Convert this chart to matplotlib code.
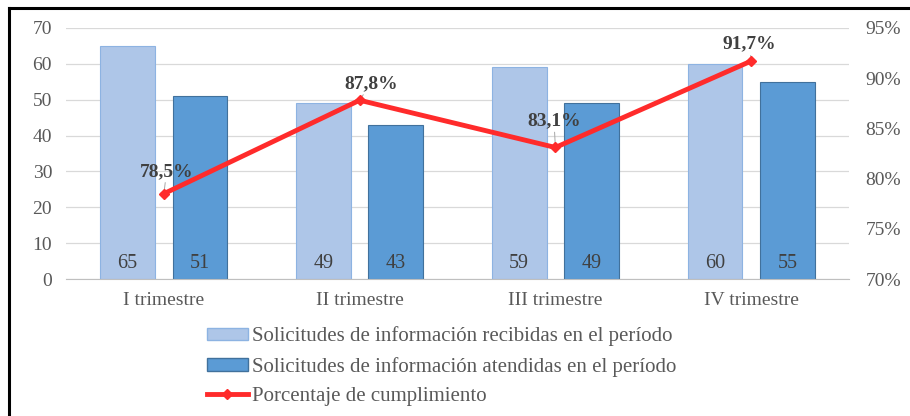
import numpy as np
import matplotlib.pyplot as plt
from matplotlib.patches import Patch
from matplotlib.lines import Line2D

plt.rcParams['font.family'] = ['Liberation Serif', 'DejaVu Serif']

trimestres = ['I trimestre', 'II trimestre', 'III trimestre', 'IV trimestre']
recibidas = [65, 49, 59, 60]
atendidas = [51, 43, 49, 55]
cumplimiento = [78.5, 87.8, 83.1, 91.7]
etiquetas_pct = ['78,5%', '87,8%', '83,1%', '91,7%']

gris = '#595959'
claro = '#aec6e8'
oscuro = '#5b9bd5'
rojo = '#ff2b2b'

fig = plt.figure(figsize=(9.1, 4.16), dpi=100)
ax = fig.add_axes([0.0725, 0.329, 0.8605, 0.604])

x = np.arange(len(trimestres))
w = 0.28
off = 0.185
ax.bar(x - off, recibidas, w, color=claro, edgecolor='#8db3e2', linewidth=0.8)
ax.bar(x + off, atendidas, w, color=oscuro, edgecolor='#41719c', linewidth=0.8)

for xi, v in zip(x - off, recibidas):
    ax.text(xi, 1.8, str(v), ha='center', va='bottom', fontsize=14.5, color='#404040')
for xi, v in zip(x + off, atendidas):
    ax.text(xi, 1.8, str(v), ha='center', va='bottom', fontsize=14.5, color='#404040')

ax.set_ylim(0, 70)
ax.set_yticks(range(0, 71, 10))
ax.set_xlim(-0.5, 3.5)
ax.set_xticks(x)
ax.set_xticklabels(trimestres)
ax.grid(axis='y', color='#d9d9d9', linewidth=0.9)
ax.set_axisbelow(True)
for s in ['top', 'left', 'right']:
    ax.spines[s].set_visible(False)
ax.spines['bottom'].set_color('#bfbfbf')
ax.tick_params(axis='both', length=0, labelsize=14, labelcolor=gris, pad=9)
ax.tick_params(axis='y', pad=10)

ax2 = ax.twinx()
ax2.plot(x, cumplimiento, color=rojo, linewidth=3.5, marker='D', markersize=5,
         zorder=5)
ax2.set_ylim(70, 95)
ax2.set_yticks(range(70, 96, 5))
ax2.set_yticklabels([f'{v}%' for v in range(70, 96, 5)])
ax2.tick_params(axis='y', length=0, labelsize=14, labelcolor=gris, pad=12)
for s in ax2.spines.values():
    s.set_visible(False)

desp = [(2, 10), (8, 6), (-1, 13), (-1, 6)]
for xi, v, t, d in zip(x, cumplimiento, etiquetas_pct, desp):
    ax2.annotate(t, (xi, v), xytext=d, textcoords='offset points', ha='center',
                 va='bottom', fontsize=14, fontweight='bold', color='#404040',
                 arrowprops=dict(arrowstyle='-', color='#a6a6a6', lw=0.7,
                                 shrinkA=0, shrinkB=3))

handles = [Patch(facecolor=claro, edgecolor='#8db3e2'),
           Patch(facecolor=oscuro, edgecolor='#41719c'),
           Line2D([], [], color=rojo, lw=3.5, marker='D', markersize=5)]
labels = ['Solicitudes de información recibidas en el período',
          'Solicitudes de información atendidas en el período',
          'Porcentaje de cumplimiento']
fig.legend(handles, labels, loc='upper left', bbox_to_anchor=(0.227, 0.215),
           frameon=False, fontsize=15, labelcolor=gris, handlelength=2.0,
           handleheight=0.55, handletextpad=0.2, labelspacing=0.5,
           borderaxespad=0, borderpad=0)

fig.add_artist(Line2D([0.01, 1.0], [0.981, 0.981], transform=fig.transFigure,
                      color='black', lw=2.2))
fig.add_artist(Line2D([0.01, 0.01], [0.0, 0.981], transform=fig.transFigure,
                      color='black', lw=2.2))

fig.savefig('out.png', dpi=100)
